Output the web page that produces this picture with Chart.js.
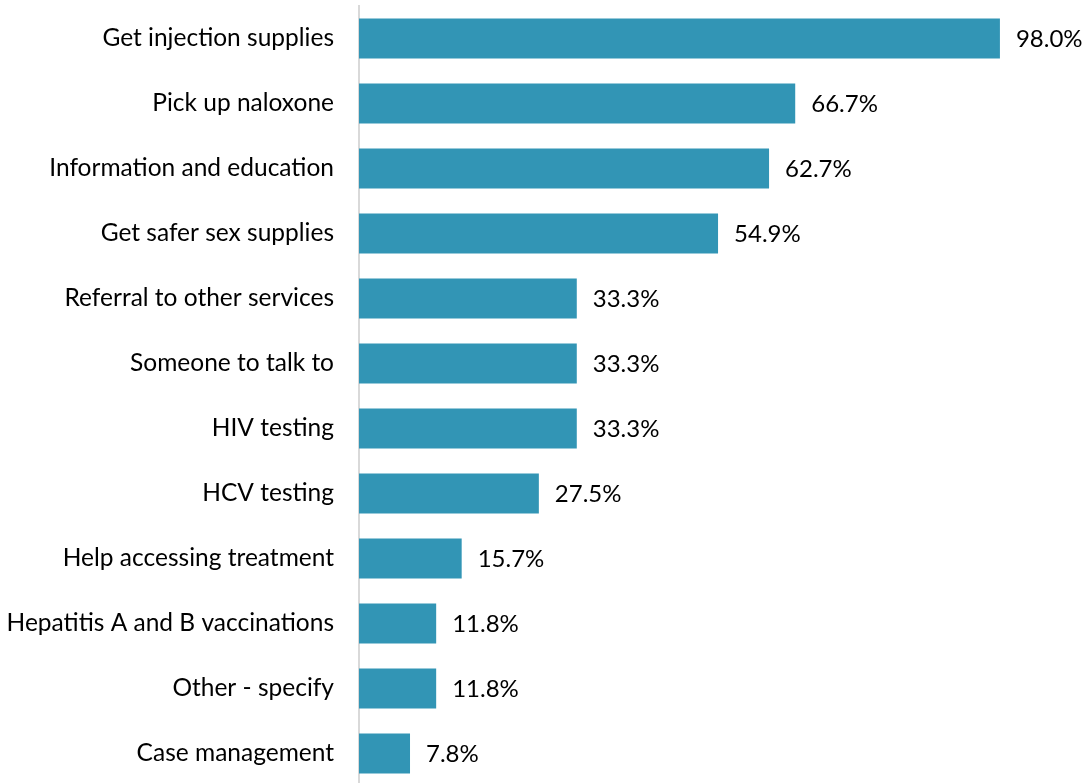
<!DOCTYPE html>
<html>
<head>
<meta charset="utf-8">
<script src="https://cdn.jsdelivr.net/npm/chart.js@4/dist/chart.umd.min.js"></script>
<style>
  html, body { margin: 0; padding: 0; background: #fff; overflow: hidden; }
  #wrap { position: absolute; left: 0; top: 0; width: 1087px; height: 786px; }
</style>
</head>
<body>
<div id="wrap"><canvas id="chart"></canvas></div>
<script>
const categories = [
  'Get injection supplies',
  'Pick up naloxone',
  'Information and education',
  'Get safer sex supplies',
  'Referral to other services',
  'Someone to talk to',
  'HIV testing',
  'HCV testing',
  'Help accessing treatment',
  'Hepatitis A and B vaccinations',
  'Other - specify',
  'Case management'
];
const percents = [98.0, 66.7, 62.7, 54.9, 33.3, 33.3, 33.3, 27.5, 15.7, 11.8, 11.8, 7.8];

const FONT = 'Lato, "Open Sans", sans-serif';

// draws the "xx.x%" text just past the end of each bar
const valueLabels = {
  id: 'valueLabels',
  afterDatasetsDraw(chart) {
    const ctx = chart.ctx;
    const meta = chart.getDatasetMeta(0);
    ctx.save();
    ctx.font = '24px ' + FONT;
    ctx.fillStyle = '#000';
    ctx.textAlign = 'left';
    ctx.textBaseline = 'middle';
    meta.data.forEach((bar, i) => {
      ctx.fillText(percents[i].toFixed(1) + '%', bar.x + 16, bar.y + 1);
    });
    ctx.restore();
  }
};

new Chart(document.getElementById('chart'), {
  type: 'bar',
  data: {
    labels: categories,
    datasets: [{
      data: percents,
      backgroundColor: '#3295b5',
      barPercentage: 40 / 65,
      categoryPercentage: 1
    }]
  },
  options: {
    indexAxis: 'y',
    responsive: true,
    maintainAspectRatio: false,
    animation: false,
    layout: { padding: { top: 6, right: 74, bottom: 0, left: 0 } },
    plugins: { legend: { display: false }, tooltip: { enabled: false } },
    scales: {
      x: { display: false, min: 0, max: 100 },
      y: {
        grid: { display: false, drawTicks: false },
        border: { display: true, color: '#d9d9d9', width: 2 },
        ticks: {
          color: '#000',
          padding: 25,
          font: { family: FONT, size: 24.5 }
        },
        afterFit(scale) {
          scale.width = 359;
          // tick padding would otherwise be added above and below the bars
          scale.paddingTop = 0;
          scale.paddingBottom = 0;
        }
      }
    }
  },
  plugins: [valueLabels]
});
</script>
</body>
</html>
